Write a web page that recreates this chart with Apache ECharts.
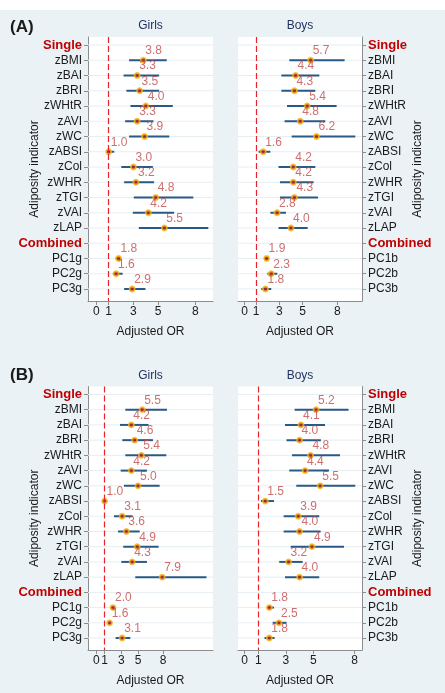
<!DOCTYPE html>
<html>
<head>
<meta charset="utf-8">
<script src="https://cdn.jsdelivr.net/npm/echarts@6/dist/echarts.min.js"></script>
<style>
  html, body { margin: 0; padding: 0; background: #fff; }
  #chart { width: 445px; height: 693px; background: linear-gradient(#fff 0 10px, #eaf2f5 10px); }
</style>
</head>
<body>
<div id="chart"></div>
<script>
// row labels (top to bottom)
const girlsNames = ['Single', 'zBMI', 'zBAI', 'zBRI', 'zWHtR', 'zAVI', 'zWC', 'zABSI', 'zCol', 'zWHR', 'zTGI', 'zVAI', 'zLAP', 'Combined', 'PC1g', 'PC2g', 'PC3g']
const boysNames = ['Single', 'zBMI', 'zBAI', 'zBRI', 'zWHtR', 'zAVI', 'zWC', 'zABSI', 'zCol', 'zWHR', 'zTGI', 'zVAI', 'zLAP', 'Combined', 'PC1b', 'PC2b', 'PC3b']
const headerRows = [1, 14]
const dataRows = [2, 3, 4, 5, 6, 7, 8, 9, 10, 11, 12, 13, 15, 16, 17]
const xTicks = [0, 1, 3, 5, 8]

// (A) adjusted OR with 95% CI
const aGirlsOR = [3.8, 3.3, 3.5, 4.0, 3.3, 3.9, 1.0, 3.0, 3.2, 4.8, 4.2, 5.5, 1.8, 1.6, 2.9]
const aGirlsLo = [2.65, 2.2, 2.43, 2.76, 2.33, 2.65, 0.85, 2.02, 2.25, 3.03, 2.95, 3.44, 1.56, 1.34, 2.25]
const aGirlsHi = [5.69, 5.08, 5.08, 6.18, 4.62, 5.9, 1.45, 4.57, 4.67, 7.84, 6.29, 9.05, 2.02, 2.13, 3.97]
const aBoysOR = [5.7, 4.4, 4.3, 5.4, 4.8, 6.2, 1.6, 4.2, 4.2, 4.3, 2.8, 4.0, 1.9, 2.3, 1.8]
const aBoysLo = [3.86, 3.17, 3.17, 3.66, 3.45, 4.06, 1.21, 2.93, 3.05, 3.05, 2.22, 2.93, 1.7, 1.96, 1.44]
const aBoysHi = [8.63, 6.45, 6.1, 7.94, 6.96, 9.55, 2.22, 6.1, 5.95, 6.33, 3.57, 5.44, 2.1, 2.82, 2.3]

// (B) adjusted OR with 95% CI
const bGirlsOR = [5.5, 4.2, 4.6, 5.4, 4.2, 5.0, 1.0, 3.1, 3.6, 4.9, 4.3, 7.9, 2.0, 1.6, 3.1]
const bGirlsLo = [3.48, 2.84, 3.12, 3.48, 2.92, 3.32, 0.9, 2.12, 2.6, 3.23, 3.0, 4.67, 1.76, 1.45, 2.32]
const bGirlsHi = [8.47, 6.27, 6.79, 8.39, 6.07, 7.59, 1.1, 4.36, 5.2, 7.47, 6.07, 13.2, 2.28, 1.75, 4.07]
const bBoysOR = [5.2, 4.1, 4.0, 4.8, 4.4, 5.5, 1.5, 3.9, 4.0, 4.9, 3.2, 4.0, 1.8, 2.5, 1.8]
const bBoysLo = [3.64, 2.94, 3.05, 3.45, 3.25, 3.76, 1.19, 2.84, 2.84, 3.35, 2.52, 2.94, 1.63, 2.04, 1.45]
const bBoysHi = [7.56, 5.85, 5.55, 6.94, 6.14, 8.05, 2.14, 5.43, 5.53, 7.23, 4.22, 5.43, 2.14, 3.05, 2.18]

const FONT = "'Liberation Sans', Arial, sans-serif"
const panels = [
    { or: aGirlsOR, lo: aGirlsLo, hi: aGirlsHi, names: girlsNames, side: 'left', xMin: -0.67, xMax: 9.43, grid: { left: 88, top: 37, width: 125, height: 264 } },
    { or: aBoysOR, lo: aBoysLo, hi: aBoysHi, names: boysNames, side: 'right', xMin: -0.57, xMax: 10.13, grid: { left: 238, top: 37, width: 124, height: 264 } },
    { or: bGirlsOR, lo: bGirlsLo, hi: bGirlsHi, names: girlsNames, side: 'left', xMin: -0.99, xMax: 13.98, grid: { left: 88, top: 386.5, width: 125, height: 263.5 } },
    { or: bBoysOR, lo: bBoysLo, hi: bBoysHi, names: boysNames, side: 'right', xMin: -0.48, xMax: 8.54, grid: { left: 238, top: 386.5, width: 124, height: 263.5 } },
]
const allRows = girlsNames.map((_, i) => i + 1)

const axisGray = '#8c8c8c'
const grid = [], xAxis = [], yAxis = [], series = []
panels.forEach((p, k) => {
    grid.push({ ...p.grid, show: true, backgroundColor: '#fff', borderWidth: 0 })
    xAxis.push({
        type: 'value', gridIndex: k, min: p.xMin, max: p.xMax,
        name: 'Adjusted OR', nameLocation: 'middle', nameGap: 25, nameMoveOverlap: false,
        nameTextStyle: { fontFamily: FONT, fontSize: 12, color: '#1a1a1a' },
        axisLine: { onZero: false, lineStyle: { color: axisGray } },
        axisTick: { customValues: xTicks, length: 4, lineStyle: { color: axisGray } },
        axisLabel: { customValues: xTicks, margin: 5, fontFamily: FONT, fontSize: 12, color: '#1a1a1a' },
        splitLine: { show: false }
    })
    yAxis.push({
        type: 'value', gridIndex: k, inverse: true, min: 0.475, max: 17.787, position: p.side,
        name: 'Adiposity indicator', nameLocation: 'middle', nameGap: p.side === 'left' ? 47 : 50, nameRotate: 90, nameMoveOverlap: false,
        nameTextStyle: { fontFamily: FONT, fontSize: 12, color: '#1a1a1a' },
        axisLine: { show: true, onZero: false, lineStyle: { color: axisGray } },
        axisTick: { customValues: allRows, length: 4, lineStyle: { color: axisGray } },
        axisLabel: {
            customValues: allRows, margin: 6, fontFamily: FONT, fontSize: 12, color: '#1a1a1a',
            formatter: v => {
                const n = p.names[Math.round(v) - 1]
                return headerRows.includes(Math.round(v)) ? '{h|' + n + '}' : n
            },
            rich: { h: { fontFamily: FONT, fontSize: 13, fontWeight: 'bold', color: '#c00000' } }
        },
        splitLine: { show: false }
    })
    // faint row lines + reference line at OR = 1
    series.push({
        type: 'custom', xAxisIndex: k, yAxisIndex: k, z: 1, silent: true,
        data: allRows.map(r => [0, r]),
        encode: { x: 0, y: 1 },
        renderItem: (params, api) => {
            const y = api.coord([0, api.value(1)])[1]
            const cs = params.coordSys
            return { type: 'line', shape: { x1: cs.x, y1: y, x2: cs.x + cs.width, y2: y }, style: { stroke: '#e6eef2', lineWidth: 1 } }
        },
        markLine: {
            silent: true, symbol: ['none', 'none'], label: { show: false },
            lineStyle: { color: '#e8232b', type: [6, 3], width: 1.2 },
            data: [{ xAxis: 1 }]
        }
    })
    // confidence intervals
    series.push({
        type: 'custom', xAxisIndex: k, yAxisIndex: k, z: 2, silent: true,
        data: dataRows.map((r, i) => [p.lo[i], p.hi[i], r]),
        encode: { x: [0, 1], y: 2 },
        renderItem: (params, api) => {
            const a = api.coord([api.value(0), api.value(2)])
            const b = api.coord([api.value(1), api.value(2)])
            return { type: 'line', shape: { x1: a[0], y1: a[1], x2: b[0], y2: b[1] }, style: { stroke: '#285a87', lineWidth: 2 } }
        }
    })
    // point estimates
    series.push({
        type: 'scatter', xAxisIndex: k, yAxisIndex: k, z: 3,
        symbolSize: 5,
        itemStyle: { color: '#b31b2b', borderColor: '#f5b90f', borderWidth: 1.8 },
        label: {
            show: true, position: 'top', align: 'left', distance: 0, offset: [2, 0],
            fontFamily: FONT, fontSize: 12, color: '#bf4b4b',
            formatter: d => d.value[0].toFixed(1)
        },
        data: dataRows.map((r, i) => [p.or[i], r])
    })
})

const titleText = (text, x, y, opts) => ({
    type: 'text', x, y,
    style: { text, fontFamily: FONT, fontSize: 12, fill: '#1f2f5f', align: 'center', verticalAlign: 'middle', ...opts }
})

const chart = echarts.init(document.getElementById('chart'))
chart.setOption({
    animation: false,
    grid, xAxis, yAxis, series,
    graphic: [
        titleText('(A)', 10, 27.5, { fontSize: 17, fontWeight: 'bold', fill: '#1a1a1a', align: 'left' }),
        titleText('(B)', 10, 375.5, { fontSize: 17, fontWeight: 'bold', fill: '#1a1a1a', align: 'left' }),
        titleText('Girls', 150.5, 26),
        titleText('Boys', 300, 26),
        titleText('Girls', 150.5, 375.5),
        titleText('Boys', 300, 375.5)
    ]
})
</script>
</body>
</html>
